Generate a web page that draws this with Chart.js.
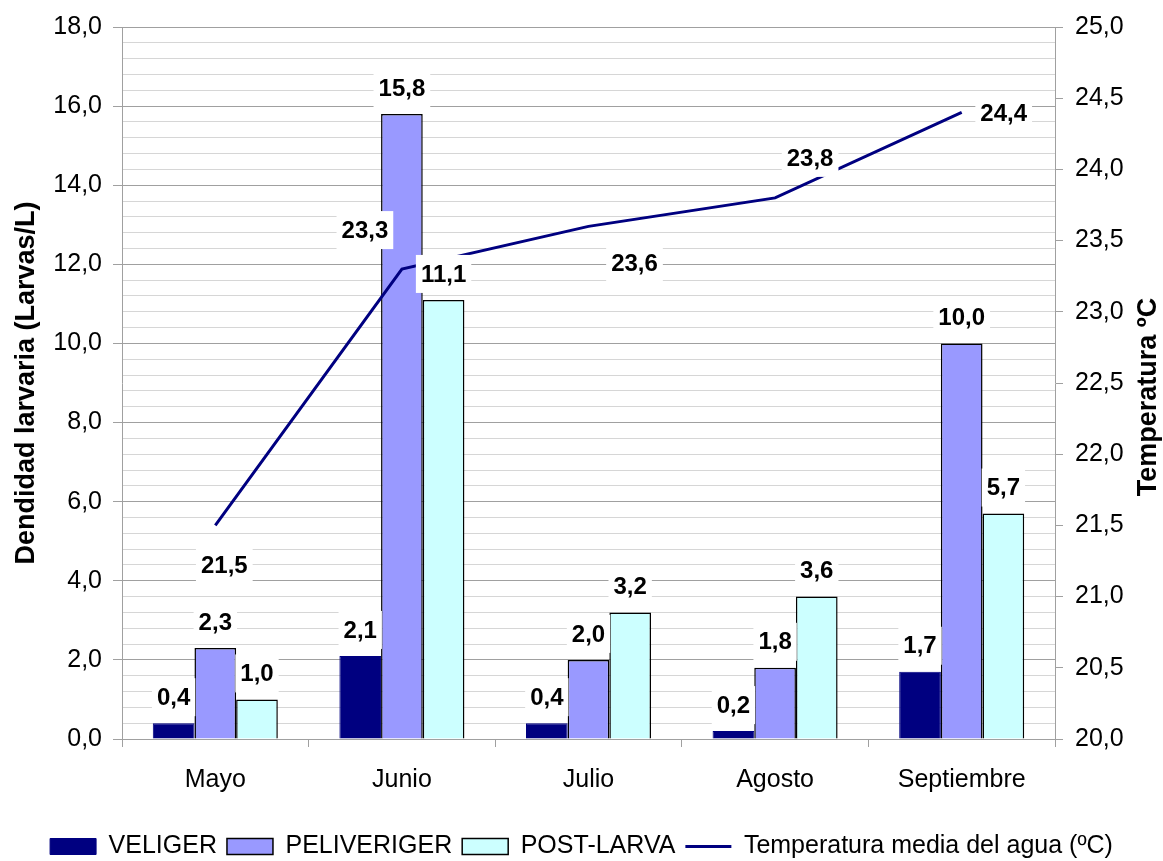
<!DOCTYPE html>
<html><head><meta charset="utf-8">
<script src="https://cdn.jsdelivr.net/npm/chart.js@4"></script>
<style>html,body{margin:0;padding:0;background:#fff;} #wrap{width:1163px;height:861px;}</style>
</head><body><div id="wrap"><canvas id="c" width="1163" height="861"></canvas></div>
<script>
const categories = ['Mayo', 'Junio', 'Julio', 'Agosto', 'Septiembre'];
const veliger = [0.4, 2.1, 0.4, 0.2, 1.7];
const peliveriger = [2.3, 15.8, 2.0, 1.8, 10.0];
const postLarva = [1.0, 11.1, 3.2, 3.6, 5.7];
const temperatura = [21.5, 23.3, 23.6, 23.8, 24.4];
const seriesNames = ['VELIGER', 'PELIVERIGER', 'POST-LARVA', 'Temperatura media del agua (ºC)'];
const leftAxisTitle = 'Dendidad larvaria (Larvas/L)';
const rightAxisTitle = 'Temperatura ºC';

const FONT = '"Liberation Sans", Arial, sans-serif';
Chart.defaults.font.family = FONT;
Chart.defaults.color = '#000';

const fmt = v => v.toFixed(1).replace('.', ',');
const lineLabelOffsets = [[9, 40], [-37, -39], [46, 37], [35, -40], [42, 1]];

const labelPlugin = {
  id: 'valueLabels',
  afterDatasetsDraw(chart) {
    const ctx = chart.ctx;
    ctx.save();
    ctx.font = 'bold 24px ' + FONT;
    ctx.textAlign = 'center';
    ctx.textBaseline = 'middle';
    const drawLabel = (text, x, y) => {
      const w = ctx.measureText(text).width + 10;
      const h = 38;
      ctx.fillStyle = '#fff';
      ctx.fillRect(x - w / 2, y - h / 2, w, h);
      ctx.fillStyle = '#000';
      ctx.fillText(text, x, y + 1);
    };
    chart.data.datasets.forEach((ds, i) => {
      const meta = chart.getDatasetMeta(i);
      meta.data.forEach((el, j) => {
        const v = ds.data[j];
        if (ds.type === 'line') {
          const o = lineLabelOffsets[j];
          drawLabel(fmt(v), el.x + o[0], el.y + o[1]);
        } else {
          drawLabel(fmt(v), el.x, el.y - 26);
        }
      });
    });
    ctx.restore();
  },
  afterDraw(chart) {
    const ctx = chart.ctx;
    ctx.save();
    ctx.translate(1149, 397);
    ctx.rotate(-Math.PI / 2);
    ctx.font = 'bold 27px ' + FONT;
    ctx.fillStyle = '#000';
    ctx.textAlign = 'center';
    ctx.textBaseline = 'middle';
    ctx.fillText(rightAxisTitle, 0, 0);
    ctx.restore();
  }
};

const isMajor = v => Math.abs(v / 2 - Math.round(v / 2)) < 1e-6;

new Chart(document.getElementById('c'), {
  type: 'bar',
  data: {
    labels: categories,
    datasets: [
      { label: seriesNames[0], data: veliger, backgroundColor: '#000080', borderColor: '#000080', borderWidth: 1, yAxisID: 'y', order: 1 },
      { label: seriesNames[1], data: peliveriger, backgroundColor: '#9999FF', borderColor: '#000', borderWidth: 1.5, yAxisID: 'y', order: 1 },
      { label: seriesNames[2], data: postLarva, backgroundColor: '#CCFFFF', borderColor: '#000', borderWidth: 1.5, yAxisID: 'y', order: 1 },
      { type: 'line', label: seriesNames[3], data: temperatura, borderColor: '#000080', backgroundColor: '#000080', borderWidth: 3, pointRadius: 0, tension: 0, yAxisID: 'y1', order: 0 }
    ]
  },
  options: {
    responsive: false,
    animation: false,
    devicePixelRatio: 1,
    layout: { padding: { top: 26, left: 0, right: 0, bottom: -8 } },
    datasets: { bar: { barPercentage: 1, categoryPercentage: 0.67 } },
    plugins: {
      tooltip: { enabled: false },
      legend: {
        position: 'bottom',
        labels: {
          font: { size: 25 },
          color: '#000',
          usePointStyle: true,
          pointStyleWidth: 46,
          boxWidth: 46,
          boxHeight: 16,
          padding: 10,
          sort: (a, b) => a.datasetIndex - b.datasetIndex,
          generateLabels(chart) {
            const items = Chart.defaults.plugins.legend.labels.generateLabels(chart);
            items.forEach(it => {
              const ds = chart.data.datasets[it.datasetIndex];
              if (ds.type === 'line') {
                it.pointStyle = 'line';
                it.strokeStyle = '#000080';
                it.lineWidth = 3;
              } else {
                it.pointStyle = 'rect';
                it.fillStyle = ds.backgroundColor;
                it.strokeStyle = ds.borderColor;
                it.lineWidth = ds.borderWidth;
              }
            });
            return items;
          }
        }
      }
    },
    scales: {
      x: {
        grid: { offset: true, drawOnChartArea: false, tickLength: 8, color: '#a0a0a0' },
        border: { color: '#a0a0a0' },
        ticks: { font: { size: 25 }, padding: 18, color: '#000' },
        afterFit: s => { s.height = 85; }
      },
      y: {
        position: 'left',
        min: 0, max: 18,
        ticks: {
          stepSize: 0.4, autoSkip: false, font: { size: 25 }, padding: 11, color: '#000',
          callback: v => isMajor(v) ? fmt(v) : ''
        },
        grid: {
          color: c => (c.tick && isMajor(c.tick.value)) ? '#a0a0a0' : '#d6d6d6',
          tickColor: c => (c.tick && isMajor(c.tick.value)) ? '#a0a0a0' : 'rgba(0,0,0,0)',
          tickLength: 9
        },
        border: { color: '#a0a0a0' },
        title: { display: true, text: leftAxisTitle, font: { size: 27, weight: 'bold' }, color: '#000', padding: { top: 10, bottom: 0 } },
        afterFit: s => { s.width = 122; }
      },
      y1: {
        position: 'right',
        min: 20, max: 25,
        ticks: { stepSize: 0.5, font: { size: 25 }, padding: 12, color: '#000', callback: v => fmt(v) },
        grid: { drawOnChartArea: false, tickLength: 8, color: '#a0a0a0' },
        border: { color: '#a0a0a0' },
        afterFit: s => { s.width = 108; }
      }
    }
  },
  plugins: [labelPlugin]
});
</script>
</body></html>
